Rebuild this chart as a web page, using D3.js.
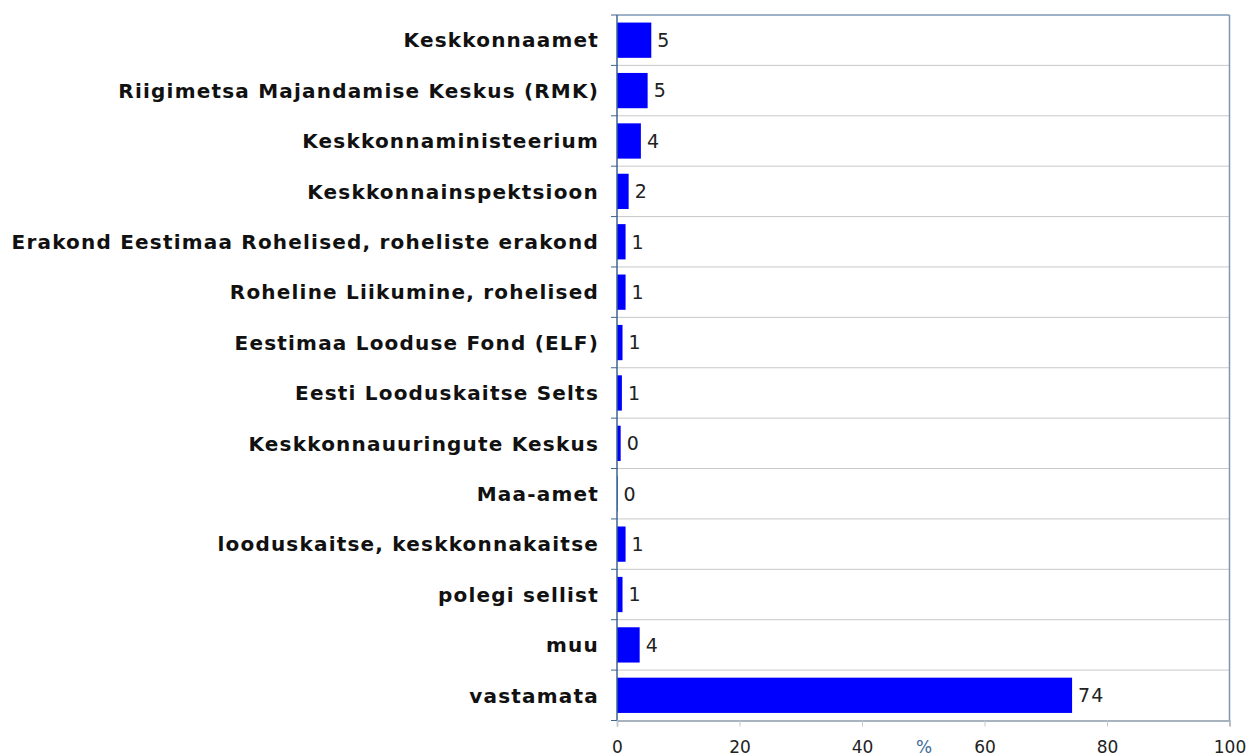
<!DOCTYPE html>
<html>
<head>
<meta charset="utf-8">
<script src="https://cdn.jsdelivr.net/npm/d3@7"></script>
<style>
  body { margin: 0; background: #fff; }
  svg { display: block; }
</style>
</head>
<body>
<div id="chart"></div>
<script>
// categories top to bottom
var categories = [
    "Keskkonnaamet",
    "Riigimetsa Majandamise Keskus (RMK)",
    "Keskkonnaministeerium",
    "Keskkonnainspektsioon",
    "Erakond Eestimaa Rohelised, roheliste erakond",
    "Roheline Liikumine, rohelised",
    "Eestimaa Looduse Fond (ELF)",
    "Eesti Looduskaitse Selts",
    "Keskkonnauuringute Keskus",
    "Maa-amet",
    "looduskaitse, keskkonnakaitse",
    "polegi sellist",
    "muu",
    "vastamata"
];
// bar lengths (%)
var values = [5.6, 5.0, 3.9, 1.9, 1.4, 1.4, 0.9, 0.8, 0.6, 0.1, 1.4, 0.9, 3.7, 74.3];
// printed labels next to bars
var valueLabels = ["5", "5", "4", "2", "1", "1", "1", "1", "0", "0", "1", "1", "4", "74"];
var xTicks = [0, 20, 40, 60, 80, 100];

var width = 1249,
    height = 756,
    margin = { top: 15, right: 20, bottom: 35, left: 617 };

var font = "'DejaVu Sans', Verdana, sans-serif";

var svg = d3.select("#chart").append("svg")
    .attr("width", width)
    .attr("height", height);

var x = d3.scaleLinear()
    .domain([0, 100])
    .range([margin.left, 1229.5]);

var y = d3.scaleBand()
    .domain(categories)
    .range([margin.top, 720.5])
    .paddingInner(0.3)
    .paddingOuter(0.15);

var step = y.step();

// y of the boundary line above a category
function boundary(d) {
    return y(d) - y.paddingInner() * step / 2;
}

// horizontal grid lines at band boundaries
svg.append("g")
    .selectAll("line")
    .data(categories.slice(1))
    .enter()
    .append("line")
    .attr("x1", x(0))
    .attr("x2", x(100))
    .attr("y1", boundary)
    .attr("y2", boundary)
    .attr("stroke", "#c8c8c8")
    .attr("stroke-width", 1);

// frame: top and right borders
svg.append("line")
    .attr("x1", x(0) - 6).attr("x2", x(100))
    .attr("y1", margin.top).attr("y2", margin.top)
    .attr("stroke", "#3c6590").attr("stroke-width", 1);
svg.append("line")
    .attr("x1", x(100)).attr("x2", x(100))
    .attr("y1", margin.top).attr("y2", 720.5)
    .attr("stroke", "#7d96b3").attr("stroke-width", 1.5);

// bars
svg.append("g")
    .selectAll("rect")
    .data(values)
    .enter()
    .append("rect")
    .attr("x", x(0))
    .attr("y", (d, i) => y(categories[i]))
    .attr("width", d => x(d) - x(0))
    .attr("height", y.bandwidth())
    .attr("fill", "#0000ff");

// value labels
svg.append("g")
    .selectAll("text")
    .data(values)
    .enter()
    .append("text")
    .attr("x", d => x(d) + 6)
    .attr("y", (d, i) => y(categories[i]) + y.bandwidth() / 2)
    .attr("dy", "0.36em")
    .style("font-family", font)
    .style("font-size", "19px")
    .style("letter-spacing", "1px")
    .style("fill", "#222")
    .text((d, i) => valueLabels[i]);

// category labels
svg.append("g")
    .selectAll("text")
    .data(categories)
    .enter()
    .append("text")
    .attr("x", x(0) - 18)
    .attr("y", d => y(d) + y.bandwidth() / 2)
    .attr("dy", "0.36em")
    .attr("text-anchor", "end")
    .style("font-family", font)
    .style("font-weight", "bold")
    .style("font-size", "20px")
    .style("letter-spacing", "1.2px")
    .style("fill", "#111")
    .text(d => d);

// left axis line and category boundary ticks
svg.append("line")
    .attr("x1", x(0)).attr("x2", x(0))
    .attr("y1", margin.top).attr("y2", 720.5)
    .attr("stroke", "#3c6590").attr("stroke-width", 1.5);
svg.append("g")
    .selectAll("line")
    .data(categories.slice(1).concat(["__end"]))
    .enter()
    .append("line")
    .attr("x1", x(0) - 6).attr("x2", x(0))
    .attr("y1", d => d === "__end" ? 720.5 : boundary(d))
    .attr("y2", d => d === "__end" ? 720.5 : boundary(d))
    .attr("stroke", "#3c6590").attr("stroke-width", 1);

// bottom axis
var xAxis = svg.append("g")
    .attr("transform", "translate(0,720.5)")
    .call(d3.axisBottom(x).tickValues(xTicks).tickSize(6).tickPadding(14));
xAxis.select(".domain").attr("stroke", "#8a9aaa").attr("stroke-width", 1.5);
xAxis.selectAll(".tick line").attr("stroke", "#c8c8c8");
xAxis.selectAll(".tick text")
    .style("font-family", font)
    .style("font-size", "17px")
    .style("fill", "#222");

// axis title
svg.append("text")
    .attr("x", 924)
    .attr("y", 753)
    .attr("text-anchor", "middle")
    .style("font-family", font)
    .style("font-size", "17px")
    .style("fill", "#3a6a9a")
    .text("%");
</script>
</body>
</html>
